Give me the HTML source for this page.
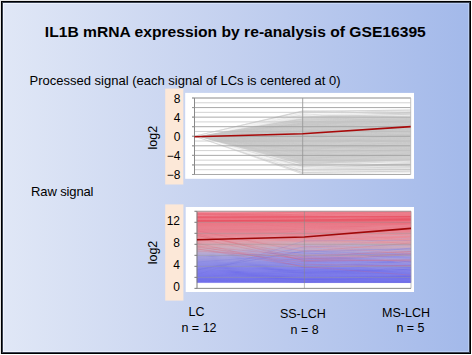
<!DOCTYPE html>
<html><head><meta charset="utf-8"><style>
html,body{margin:0;padding:0;background:#fff;width:472px;height:355px;overflow:hidden}
svg{display:block}
text{font-family:"Liberation Sans",sans-serif;fill:#000}
</style></head><body>
<svg width="472" height="355" viewBox="0 0 472 355">
<defs>
<linearGradient id="bg" x1="0" y1="0" x2="1" y2="0">
<stop offset="0" stop-color="#e0e7f6"/>
<stop offset="0.5" stop-color="#c3d0ef"/>
<stop offset="1" stop-color="#a3b9ea"/>
</linearGradient>
<linearGradient id="hl" x1="0" y1="0" x2="1" y2="0">
<stop offset="0" stop-color="#f2f5fc"/>
<stop offset="1" stop-color="#b8ccf2"/>
</linearGradient>
</defs>
<rect x="0" y="0" width="472" height="355" fill="#fff"/>
<rect x="0" y="0" width="471" height="354" fill="#e6e6e6"/>
<rect x="1" y="1" width="470" height="353" fill="#000"/>
<rect x="2" y="2" width="468" height="351" fill="#3a4252"/>
<rect x="3" y="3" width="466" height="349" fill="url(#hl)"/>
<rect x="4" y="4" width="464" height="347" fill="url(#bg)"/>

<text x="44.8" y="36.6" font-size="15.5" font-weight="bold" textLength="381" lengthAdjust="spacingAndGlyphs">IL1B mRNA expression by re-analysis of GSE16395</text>
<text x="29.5" y="84.8" font-size="13" textLength="311" lengthAdjust="spacing">Processed signal (each signal of LCs is centered at 0)</text>
<text x="31" y="196" font-size="13" textLength="62.5" lengthAdjust="spacing">Raw signal</text>
<rect x="165.2" y="88.6" width="18.1" height="95.9" fill="#fce8d8"/>
<rect x="185.2" y="92.9" width="228.8" height="85.9" fill="#fff"/>
<polygon points="194.5,136.2 302.7,110.9 410.7,109.5 410.7,172.6 302.7,174.5" fill="#e8e8e8" fill-opacity="1"/>
<polygon points="194.5,136.2 302.7,114.3 410.7,113.3 410.7,169.7 302.7,169.2" fill="#dcdcdc" fill-opacity="1"/>
<polygon points="194.5,136.2 302.7,119.0 410.7,115.2 410.7,165.9 302.7,164.9" fill="#d4d4d4" fill-opacity="1"/>
<polygon points="194.5,136.2 302.7,121.9 410.7,117.1 410.7,163.0 302.7,160.2" fill="#cfcfcf" fill-opacity="1"/>
<polyline points="194.5,136.2 302.7,142.2 410.7,134.9" fill="none" stroke="#c4c4c4" stroke-opacity="0.45" stroke-width="0.5"/>
<polyline points="194.5,136.2 302.7,141.8 410.7,140.1" fill="none" stroke="#c4c4c4" stroke-opacity="0.45" stroke-width="0.5"/>
<polyline points="194.5,136.2 302.7,151.5 410.7,149.1" fill="none" stroke="#c4c4c4" stroke-opacity="0.45" stroke-width="0.5"/>
<polyline points="194.5,136.2 302.7,123.2 410.7,116.6" fill="none" stroke="#c4c4c4" stroke-opacity="0.45" stroke-width="0.5"/>
<polyline points="194.5,136.2 302.7,124.3 410.7,118.8" fill="none" stroke="#c4c4c4" stroke-opacity="0.45" stroke-width="0.5"/>
<polyline points="194.5,136.2 302.7,133.2 410.7,128.1" fill="none" stroke="#c4c4c4" stroke-opacity="0.45" stroke-width="0.5"/>
<polyline points="194.5,136.2 302.7,161.7 410.7,152.2" fill="none" stroke="#c4c4c4" stroke-opacity="0.45" stroke-width="0.5"/>
<polyline points="194.5,136.2 302.7,131.6 410.7,124.5" fill="none" stroke="#c4c4c4" stroke-opacity="0.45" stroke-width="0.5"/>
<polyline points="194.5,136.2 302.7,162.1 410.7,169.9" fill="none" stroke="#c4c4c4" stroke-opacity="0.45" stroke-width="0.5"/>
<polyline points="194.5,136.2 302.7,151.0 410.7,150.3" fill="none" stroke="#c4c4c4" stroke-opacity="0.45" stroke-width="0.5"/>
<polyline points="194.5,136.2 302.7,134.4 410.7,130.9" fill="none" stroke="#c4c4c4" stroke-opacity="0.45" stroke-width="0.5"/>
<polyline points="194.5,136.2 302.7,131.4 410.7,131.9" fill="none" stroke="#c4c4c4" stroke-opacity="0.45" stroke-width="0.5"/>
<polyline points="194.5,136.2 302.7,134.4 410.7,127.9" fill="none" stroke="#c4c4c4" stroke-opacity="0.45" stroke-width="0.5"/>
<polyline points="194.5,136.2 302.7,147.8 410.7,132.5" fill="none" stroke="#c4c4c4" stroke-opacity="0.45" stroke-width="0.5"/>
<polyline points="194.5,136.2 302.7,130.9 410.7,119.1" fill="none" stroke="#c4c4c4" stroke-opacity="0.45" stroke-width="0.5"/>
<polyline points="194.5,136.2 302.7,147.2 410.7,148.4" fill="none" stroke="#c4c4c4" stroke-opacity="0.45" stroke-width="0.5"/>
<polyline points="194.5,136.2 302.7,143.4 410.7,140.3" fill="none" stroke="#c4c4c4" stroke-opacity="0.45" stroke-width="0.5"/>
<polyline points="194.5,136.2 302.7,129.9 410.7,124.4" fill="none" stroke="#c4c4c4" stroke-opacity="0.45" stroke-width="0.5"/>
<polyline points="194.5,136.2 302.7,144.8 410.7,147.4" fill="none" stroke="#c4c4c4" stroke-opacity="0.45" stroke-width="0.5"/>
<polyline points="194.5,136.2 302.7,145.9 410.7,133.9" fill="none" stroke="#c4c4c4" stroke-opacity="0.45" stroke-width="0.5"/>
<polyline points="194.5,136.2 302.7,149.8 410.7,144.4" fill="none" stroke="#c4c4c4" stroke-opacity="0.45" stroke-width="0.5"/>
<polyline points="194.5,136.2 302.7,132.7 410.7,138.9" fill="none" stroke="#c4c4c4" stroke-opacity="0.45" stroke-width="0.5"/>
<polyline points="194.5,136.2 302.7,138.0 410.7,125.4" fill="none" stroke="#c4c4c4" stroke-opacity="0.45" stroke-width="0.5"/>
<polyline points="194.5,136.2 302.7,166.6 410.7,164.9" fill="none" stroke="#c4c4c4" stroke-opacity="0.45" stroke-width="0.5"/>
<polyline points="194.5,136.2 302.7,140.1 410.7,141.8" fill="none" stroke="#c4c4c4" stroke-opacity="0.45" stroke-width="0.5"/>
<polyline points="194.5,136.2 302.7,131.7 410.7,128.3" fill="none" stroke="#c4c4c4" stroke-opacity="0.45" stroke-width="0.5"/>
<polyline points="194.5,136.2 302.7,158.9 410.7,149.6" fill="none" stroke="#c4c4c4" stroke-opacity="0.45" stroke-width="0.5"/>
<polyline points="194.5,136.2 302.7,129.4 410.7,119.2" fill="none" stroke="#c4c4c4" stroke-opacity="0.45" stroke-width="0.5"/>
<polyline points="194.5,136.2 302.7,118.7 410.7,112.4" fill="none" stroke="#c4c4c4" stroke-opacity="0.45" stroke-width="0.5"/>
<polyline points="194.5,136.2 302.7,137.0 410.7,141.9" fill="none" stroke="#c4c4c4" stroke-opacity="0.45" stroke-width="0.5"/>
<polyline points="194.5,136.2 302.7,130.1 410.7,130.4" fill="none" stroke="#c4c4c4" stroke-opacity="0.45" stroke-width="0.5"/>
<polyline points="194.5,136.2 302.7,144.9 410.7,149.6" fill="none" stroke="#c4c4c4" stroke-opacity="0.45" stroke-width="0.5"/>
<polyline points="194.5,136.2 302.7,152.1 410.7,151.8" fill="none" stroke="#c4c4c4" stroke-opacity="0.45" stroke-width="0.5"/>
<polyline points="194.5,136.2 302.7,120.8 410.7,130.5" fill="none" stroke="#c4c4c4" stroke-opacity="0.45" stroke-width="0.5"/>
<polyline points="194.5,136.2 302.7,158.8 410.7,153.4" fill="none" stroke="#c4c4c4" stroke-opacity="0.45" stroke-width="0.5"/>
<polyline points="194.5,136.2 302.7,118.6 410.7,112.3" fill="none" stroke="#c4c4c4" stroke-opacity="0.45" stroke-width="0.5"/>
<polyline points="194.5,136.2 302.7,165.0 410.7,173.1" fill="none" stroke="#c4c4c4" stroke-opacity="0.45" stroke-width="0.5"/>
<polyline points="194.5,136.2 302.7,133.7 410.7,134.8" fill="none" stroke="#c4c4c4" stroke-opacity="0.45" stroke-width="0.5"/>
<polyline points="194.5,136.2 302.7,154.2 410.7,143.8" fill="none" stroke="#c4c4c4" stroke-opacity="0.45" stroke-width="0.5"/>
<polyline points="194.5,136.2 302.7,123.4 410.7,118.5" fill="none" stroke="#c4c4c4" stroke-opacity="0.45" stroke-width="0.5"/>
<polyline points="194.5,136.2 302.7,135.2 410.7,128.5" fill="none" stroke="#c4c4c4" stroke-opacity="0.45" stroke-width="0.5"/>
<polyline points="194.5,136.2 302.7,116.5 410.7,112.3" fill="none" stroke="#c4c4c4" stroke-opacity="0.45" stroke-width="0.5"/>
<polyline points="194.5,136.2 302.7,131.5 410.7,124.0" fill="none" stroke="#c4c4c4" stroke-opacity="0.45" stroke-width="0.5"/>
<polyline points="194.5,136.2 302.7,160.4 410.7,148.0" fill="none" stroke="#c4c4c4" stroke-opacity="0.45" stroke-width="0.5"/>
<polyline points="194.5,136.2 302.7,125.4 410.7,118.0" fill="none" stroke="#c4c4c4" stroke-opacity="0.45" stroke-width="0.5"/>
<polyline points="194.5,136.2 302.7,166.0 410.7,166.4" fill="none" stroke="#c4c4c4" stroke-opacity="0.45" stroke-width="0.5"/>
<polyline points="194.5,136.2 302.7,127.0 410.7,135.3" fill="none" stroke="#c4c4c4" stroke-opacity="0.45" stroke-width="0.5"/>
<polyline points="194.5,136.2 302.7,141.2 410.7,130.5" fill="none" stroke="#c4c4c4" stroke-opacity="0.45" stroke-width="0.5"/>
<polyline points="194.5,136.2 302.7,156.8 410.7,142.2" fill="none" stroke="#c4c4c4" stroke-opacity="0.45" stroke-width="0.5"/>
<polyline points="194.5,136.2 302.7,131.0 410.7,128.2" fill="none" stroke="#c4c4c4" stroke-opacity="0.45" stroke-width="0.5"/>
<polyline points="194.5,136.2 302.7,134.1 410.7,126.0" fill="none" stroke="#c4c4c4" stroke-opacity="0.45" stroke-width="0.5"/>
<polyline points="194.5,136.2 302.7,137.0 410.7,125.5" fill="none" stroke="#c4c4c4" stroke-opacity="0.45" stroke-width="0.5"/>
<polyline points="194.5,136.2 302.7,147.8 410.7,146.8" fill="none" stroke="#c4c4c4" stroke-opacity="0.45" stroke-width="0.5"/>
<polyline points="194.5,136.2 302.7,124.2 410.7,120.2" fill="none" stroke="#c4c4c4" stroke-opacity="0.45" stroke-width="0.5"/>
<polyline points="194.5,136.2 302.7,150.8 410.7,140.7" fill="none" stroke="#c4c4c4" stroke-opacity="0.45" stroke-width="0.5"/>
<polyline points="194.5,136.2 302.7,118.3 410.7,117.5" fill="none" stroke="#c4c4c4" stroke-opacity="0.45" stroke-width="0.5"/>
<polyline points="194.5,136.2 302.7,157.8 410.7,154.8" fill="none" stroke="#c4c4c4" stroke-opacity="0.45" stroke-width="0.5"/>
<polyline points="194.5,136.2 302.7,140.7 410.7,138.9" fill="none" stroke="#c4c4c4" stroke-opacity="0.45" stroke-width="0.5"/>
<polyline points="194.5,136.2 302.7,119.2 410.7,122.2" fill="none" stroke="#c4c4c4" stroke-opacity="0.45" stroke-width="0.5"/>
<polyline points="194.5,136.2 302.7,121.2 410.7,125.8" fill="none" stroke="#c4c4c4" stroke-opacity="0.45" stroke-width="0.5"/>
<polyline points="194.5,136.2 302.7,149.5 410.7,141.5" fill="none" stroke="#c4c4c4" stroke-opacity="0.45" stroke-width="0.5"/>
<polyline points="194.5,136.2 302.7,123.0 410.7,113.4" fill="none" stroke="#c4c4c4" stroke-opacity="0.45" stroke-width="0.5"/>
<polyline points="194.5,136.2 302.7,133.9 410.7,129.1" fill="none" stroke="#c4c4c4" stroke-opacity="0.45" stroke-width="0.5"/>
<polyline points="194.5,136.2 302.7,136.5 410.7,128.9" fill="none" stroke="#c4c4c4" stroke-opacity="0.45" stroke-width="0.5"/>
<polyline points="194.5,136.2 302.7,141.1 410.7,135.4" fill="none" stroke="#c4c4c4" stroke-opacity="0.45" stroke-width="0.5"/>
<polyline points="194.5,136.2 302.7,130.7 410.7,126.9" fill="none" stroke="#c4c4c4" stroke-opacity="0.45" stroke-width="0.5"/>
<polyline points="194.5,136.2 302.7,128.0 410.7,120.4" fill="none" stroke="#c4c4c4" stroke-opacity="0.45" stroke-width="0.5"/>
<polyline points="194.5,136.2 302.7,110.9 410.7,112.3" fill="none" stroke="#c4c4c4" stroke-opacity="0.45" stroke-width="0.5"/>
<polyline points="194.5,136.2 302.7,144.6 410.7,143.2" fill="none" stroke="#c4c4c4" stroke-opacity="0.45" stroke-width="0.5"/>
<polyline points="194.5,136.2 302.7,138.8 410.7,128.8" fill="none" stroke="#c4c4c4" stroke-opacity="0.45" stroke-width="0.5"/>
<polyline points="194.5,136.2 302.7,143.3 410.7,136.9" fill="none" stroke="#c4c4c4" stroke-opacity="0.45" stroke-width="0.5"/>
<polyline points="194.5,136.2 302.7,113.2 410.7,126.5" fill="none" stroke="#c4c4c4" stroke-opacity="0.45" stroke-width="0.5"/>
<polyline points="194.5,136.2 302.7,154.2 410.7,148.8" fill="none" stroke="#c4c4c4" stroke-opacity="0.45" stroke-width="0.5"/>
<polyline points="194.5,136.2 302.7,133.1 410.7,127.7" fill="none" stroke="#c4c4c4" stroke-opacity="0.45" stroke-width="0.5"/>
<polyline points="194.5,136.2 302.7,144.6 410.7,136.4" fill="none" stroke="#c4c4c4" stroke-opacity="0.45" stroke-width="0.5"/>
<polyline points="194.5,136.2 302.7,134.7 410.7,134.4" fill="none" stroke="#c4c4c4" stroke-opacity="0.45" stroke-width="0.5"/>
<polyline points="194.5,136.2 302.7,110.9 410.7,112.3" fill="none" stroke="#c4c4c4" stroke-opacity="0.45" stroke-width="0.5"/>
<polyline points="194.5,136.2 302.7,146.3 410.7,143.2" fill="none" stroke="#c4c4c4" stroke-opacity="0.45" stroke-width="0.5"/>
<polyline points="194.5,136.2 302.7,141.8 410.7,138.4" fill="none" stroke="#c4c4c4" stroke-opacity="0.45" stroke-width="0.5"/>
<polyline points="194.5,136.2 302.7,174.0 410.7,173.1" fill="none" stroke="#c4c4c4" stroke-opacity="0.45" stroke-width="0.5"/>
<polyline points="194.5,136.2 302.7,124.7 410.7,128.7" fill="none" stroke="#c4c4c4" stroke-opacity="0.45" stroke-width="0.5"/>
<polyline points="194.5,136.2 302.7,139.6 410.7,129.4" fill="none" stroke="#c4c4c4" stroke-opacity="0.45" stroke-width="0.5"/>
<polyline points="194.5,136.2 302.7,126.8 410.7,113.0" fill="none" stroke="#c4c4c4" stroke-opacity="0.45" stroke-width="0.5"/>
<polyline points="194.5,136.2 302.7,162.2 410.7,160.8" fill="none" stroke="#c4c4c4" stroke-opacity="0.45" stroke-width="0.5"/>
<polyline points="194.5,136.2 302.7,143.4 410.7,135.4" fill="none" stroke="#c4c4c4" stroke-opacity="0.45" stroke-width="0.5"/>
<polyline points="194.5,136.2 302.7,123.5 410.7,137.6" fill="none" stroke="#c4c4c4" stroke-opacity="0.45" stroke-width="0.5"/>
<polyline points="194.5,136.2 302.7,123.5 410.7,129.4" fill="none" stroke="#c4c4c4" stroke-opacity="0.45" stroke-width="0.5"/>
<polyline points="194.5,136.2 302.7,129.2 410.7,135.3" fill="none" stroke="#c4c4c4" stroke-opacity="0.45" stroke-width="0.5"/>
<polyline points="194.5,136.2 302.7,136.2 410.7,124.4" fill="none" stroke="#c4c4c4" stroke-opacity="0.45" stroke-width="0.5"/>
<polyline points="194.5,136.2 302.7,140.7 410.7,135.6" fill="none" stroke="#c4c4c4" stroke-opacity="0.45" stroke-width="0.5"/>
<polyline points="194.5,136.2 302.7,127.6 410.7,122.8" fill="none" stroke="#c4c4c4" stroke-opacity="0.45" stroke-width="0.5"/>
<polyline points="194.5,136.2 302.7,139.9 410.7,125.8" fill="none" stroke="#c4c4c4" stroke-opacity="0.45" stroke-width="0.5"/>
<polyline points="194.5,136.2 302.7,124.1 410.7,122.2" fill="none" stroke="#c4c4c4" stroke-opacity="0.45" stroke-width="0.5"/>
<polyline points="194.5,136.2 302.7,110.9 410.7,114.8" fill="none" stroke="#c4c4c4" stroke-opacity="0.45" stroke-width="0.5"/>
<polyline points="194.5,136.2 302.7,126.0 410.7,123.9" fill="none" stroke="#c4c4c4" stroke-opacity="0.45" stroke-width="0.5"/>
<polyline points="194.5,136.2 302.7,136.8 410.7,128.3" fill="none" stroke="#c4c4c4" stroke-opacity="0.45" stroke-width="0.5"/>
<polyline points="194.5,136.2 302.7,135.6 410.7,127.5" fill="none" stroke="#c4c4c4" stroke-opacity="0.45" stroke-width="0.5"/>
<polyline points="194.5,136.2 302.7,159.8 410.7,166.1" fill="none" stroke="#c4c4c4" stroke-opacity="0.45" stroke-width="0.5"/>
<polyline points="194.5,136.2 302.7,130.1 410.7,132.7" fill="none" stroke="#c4c4c4" stroke-opacity="0.45" stroke-width="0.5"/>
<polyline points="194.5,136.2 302.7,152.9 410.7,158.9" fill="none" stroke="#c4c4c4" stroke-opacity="0.45" stroke-width="0.5"/>
<polyline points="194.5,136.2 302.7,121.1 410.7,112.3" fill="none" stroke="#c4c4c4" stroke-opacity="0.45" stroke-width="0.5"/>
<polyline points="194.5,136.2 302.7,118.2 410.7,120.7" fill="none" stroke="#c4c4c4" stroke-opacity="0.45" stroke-width="0.5"/>
<polyline points="194.5,136.2 302.7,138.6 410.7,142.4" fill="none" stroke="#c4c4c4" stroke-opacity="0.45" stroke-width="0.5"/>
<polyline points="194.5,136.2 302.7,128.0 410.7,113.6" fill="none" stroke="#c4c4c4" stroke-opacity="0.45" stroke-width="0.5"/>
<polyline points="194.5,136.2 302.7,151.0 410.7,136.7" fill="none" stroke="#c4c4c4" stroke-opacity="0.45" stroke-width="0.5"/>
<polyline points="194.5,136.2 302.7,124.9 410.7,122.3" fill="none" stroke="#c4c4c4" stroke-opacity="0.45" stroke-width="0.5"/>
<polyline points="194.5,136.2 302.7,166.0 410.7,152.7" fill="none" stroke="#c4c4c4" stroke-opacity="0.45" stroke-width="0.5"/>
<polyline points="194.5,136.2 302.7,140.0 410.7,140.2" fill="none" stroke="#c4c4c4" stroke-opacity="0.45" stroke-width="0.5"/>
<polyline points="194.5,136.2 302.7,133.1 410.7,126.5" fill="none" stroke="#c4c4c4" stroke-opacity="0.45" stroke-width="0.5"/>
<polyline points="194.5,136.2 302.7,117.9 410.7,120.9" fill="none" stroke="#c4c4c4" stroke-opacity="0.45" stroke-width="0.5"/>
<polyline points="194.5,136.2 302.7,122.9 410.7,112.3" fill="none" stroke="#c4c4c4" stroke-opacity="0.45" stroke-width="0.5"/>
<polyline points="194.5,136.2 302.7,118.5 410.7,115.9" fill="none" stroke="#c4c4c4" stroke-opacity="0.45" stroke-width="0.5"/>
<polyline points="194.5,136.2 302.7,149.0 410.7,138.3" fill="none" stroke="#c4c4c4" stroke-opacity="0.45" stroke-width="0.5"/>
<polyline points="194.5,136.2 302.7,137.0 410.7,132.4" fill="none" stroke="#c4c4c4" stroke-opacity="0.45" stroke-width="0.5"/>
<polyline points="194.5,136.2 302.7,118.9 410.7,116.8" fill="none" stroke="#c4c4c4" stroke-opacity="0.45" stroke-width="0.5"/>
<polyline points="194.5,136.2 302.7,170.5 410.7,169.2" fill="none" stroke="#c4c4c4" stroke-opacity="0.45" stroke-width="0.5"/>
<polyline points="194.5,136.2 302.7,164.3 410.7,155.0" fill="none" stroke="#c4c4c4" stroke-opacity="0.45" stroke-width="0.5"/>
<polyline points="194.5,136.2 302.7,134.2 410.7,134.5" fill="none" stroke="#c4c4c4" stroke-opacity="0.45" stroke-width="0.5"/>
<polyline points="194.5,136.2 302.7,138.8 410.7,129.4" fill="none" stroke="#c4c4c4" stroke-opacity="0.45" stroke-width="0.5"/>
<polyline points="194.5,136.2 302.7,137.5 410.7,124.8" fill="none" stroke="#c4c4c4" stroke-opacity="0.45" stroke-width="0.5"/>
<polyline points="194.5,136.2 302.7,116.4 410.7,106.7" fill="none" stroke="#ffffff" stroke-opacity="0.6" stroke-width="0.6"/>
<polyline points="194.5,136.2 302.7,167.2 410.7,161.9" fill="none" stroke="#ffffff" stroke-opacity="0.6" stroke-width="0.6"/>
<polyline points="194.5,136.2 302.7,112.6 410.7,115.9" fill="none" stroke="#ffffff" stroke-opacity="0.6" stroke-width="0.6"/>
<polyline points="194.5,136.2 302.7,118.0 410.7,116.7" fill="none" stroke="#ffffff" stroke-opacity="0.6" stroke-width="0.6"/>
<polyline points="194.5,136.2 302.7,114.0 410.7,109.1" fill="none" stroke="#ffffff" stroke-opacity="0.6" stroke-width="0.6"/>
<polyline points="194.5,136.2 302.7,168.2 410.7,161.0" fill="none" stroke="#ffffff" stroke-opacity="0.6" stroke-width="0.6"/>
<polyline points="194.5,136.2 302.7,168.5 410.7,165.6" fill="none" stroke="#ffffff" stroke-opacity="0.6" stroke-width="0.6"/>
<polyline points="194.5,136.2 302.7,171.2 410.7,171.0" fill="none" stroke="#ffffff" stroke-opacity="0.6" stroke-width="0.6"/>
<polyline points="194.5,136.2 302.7,172.6 410.7,173.1" fill="none" stroke="#ffffff" stroke-opacity="0.6" stroke-width="0.6"/>
<polyline points="194.5,136.2 302.7,112.0 410.7,112.6" fill="none" stroke="#ffffff" stroke-opacity="0.6" stroke-width="0.6"/>
<polyline points="194.5,136.2 302.7,169.2 410.7,170.4" fill="none" stroke="#ffffff" stroke-opacity="0.6" stroke-width="0.6"/>
<polyline points="194.5,136.2 302.7,165.2 410.7,162.9" fill="none" stroke="#ffffff" stroke-opacity="0.6" stroke-width="0.6"/>
<polyline points="194.5,136.2 302.7,111.9 410.7,108.1" fill="none" stroke="#ffffff" stroke-opacity="0.6" stroke-width="0.6"/>
<polyline points="194.5,136.2 302.7,117.3 410.7,117.1" fill="none" stroke="#ffffff" stroke-opacity="0.6" stroke-width="0.6"/>
<polyline points="194.5,136.2 302.7,113.6 410.7,115.3" fill="none" stroke="#ffffff" stroke-opacity="0.6" stroke-width="0.6"/>
<polyline points="194.5,136.2 302.7,172.1 410.7,173.1" fill="none" stroke="#ffffff" stroke-opacity="0.6" stroke-width="0.6"/>
<polyline points="194.5,136.2 302.7,165.1 410.7,160.5" fill="none" stroke="#ffffff" stroke-opacity="0.6" stroke-width="0.6"/>
<polyline points="194.5,136.2 302.7,115.4 410.7,101.8" fill="none" stroke="#ffffff" stroke-opacity="0.6" stroke-width="0.6"/>
<polyline points="194.5,136.2 302.7,169.4 410.7,168.7" fill="none" stroke="#ffffff" stroke-opacity="0.6" stroke-width="0.6"/>
<polyline points="194.5,136.2 302.7,116.0 410.7,110.9" fill="none" stroke="#ffffff" stroke-opacity="0.6" stroke-width="0.6"/>
<polyline points="194.5,136.2 302.7,111.4 410.7,110.0" fill="none" stroke="#c8c8c8" stroke-width="0.7"/>
<polyline points="194.5,136.2 302.7,172.6 410.7,171.1" fill="none" stroke="#c8c8c8" stroke-width="0.7"/>
<line x1="192.0" y1="174.49" x2="410.7" y2="174.49" stroke="#a0a0a0" stroke-opacity="0.9" stroke-width="1"/>
<line x1="194.5" y1="169.71" x2="410.7" y2="169.71" stroke="#bcbcbc" stroke-opacity="0.85" stroke-width="0.8"/>
<line x1="192.0" y1="164.93" x2="410.7" y2="164.93" stroke="#a0a0a0" stroke-opacity="0.9" stroke-width="1"/>
<line x1="194.5" y1="160.15" x2="410.7" y2="160.15" stroke="#bcbcbc" stroke-opacity="0.85" stroke-width="0.8"/>
<line x1="192.0" y1="155.37" x2="410.7" y2="155.37" stroke="#a0a0a0" stroke-opacity="0.9" stroke-width="1"/>
<line x1="194.5" y1="150.59" x2="410.7" y2="150.59" stroke="#bcbcbc" stroke-opacity="0.85" stroke-width="0.8"/>
<line x1="192.0" y1="145.81" x2="410.7" y2="145.81" stroke="#a0a0a0" stroke-opacity="0.9" stroke-width="1"/>
<line x1="194.5" y1="141.03" x2="410.7" y2="141.03" stroke="#bcbcbc" stroke-opacity="0.85" stroke-width="0.8"/>
<line x1="192.0" y1="136.25" x2="410.7" y2="136.25" stroke="#a0a0a0" stroke-opacity="0.9" stroke-width="1"/>
<line x1="194.5" y1="131.47" x2="410.7" y2="131.47" stroke="#bcbcbc" stroke-opacity="0.85" stroke-width="0.8"/>
<line x1="192.0" y1="126.69" x2="410.7" y2="126.69" stroke="#a0a0a0" stroke-opacity="0.9" stroke-width="1"/>
<line x1="194.5" y1="121.91" x2="410.7" y2="121.91" stroke="#bcbcbc" stroke-opacity="0.85" stroke-width="0.8"/>
<line x1="192.0" y1="117.13" x2="410.7" y2="117.13" stroke="#a0a0a0" stroke-opacity="0.9" stroke-width="1"/>
<line x1="194.5" y1="112.35" x2="410.7" y2="112.35" stroke="#bcbcbc" stroke-opacity="0.85" stroke-width="0.8"/>
<line x1="192.0" y1="107.57" x2="410.7" y2="107.57" stroke="#a0a0a0" stroke-opacity="0.9" stroke-width="1"/>
<line x1="194.5" y1="102.79" x2="410.7" y2="102.79" stroke="#bcbcbc" stroke-opacity="0.85" stroke-width="0.8"/>
<line x1="192.0" y1="98.01" x2="410.7" y2="98.01" stroke="#a0a0a0" stroke-opacity="0.9" stroke-width="1"/>
<line x1="194.5" y1="98.01" x2="410.7" y2="98.01" stroke="#c0c0c0" stroke-width="1.6"/>
<line x1="194.5" y1="98.00999999999999" x2="194.5" y2="174.49" stroke="#888" stroke-width="1"/>
<line x1="192.0" y1="174.49" x2="194.5" y2="174.49" stroke="#999" stroke-width="0.9"/>
<line x1="192.0" y1="164.93" x2="194.5" y2="164.93" stroke="#999" stroke-width="0.9"/>
<line x1="192.0" y1="155.37" x2="194.5" y2="155.37" stroke="#999" stroke-width="0.9"/>
<line x1="192.0" y1="145.81" x2="194.5" y2="145.81" stroke="#999" stroke-width="0.9"/>
<line x1="192.0" y1="136.25" x2="194.5" y2="136.25" stroke="#999" stroke-width="0.9"/>
<line x1="192.0" y1="126.69" x2="194.5" y2="126.69" stroke="#999" stroke-width="0.9"/>
<line x1="192.0" y1="117.13" x2="194.5" y2="117.13" stroke="#999" stroke-width="0.9"/>
<line x1="192.0" y1="107.57" x2="194.5" y2="107.57" stroke="#999" stroke-width="0.9"/>
<line x1="192.0" y1="98.01" x2="194.5" y2="98.01" stroke="#999" stroke-width="0.9"/>
<line x1="302.7" y1="98.00999999999999" x2="302.7" y2="174.49" stroke="#999" stroke-width="0.9"/>
<line x1="410.7" y1="98.00999999999999" x2="410.7" y2="174.49" stroke="#bbb" stroke-width="0.9"/>
<polyline points="194.5,136.7 302.7,133.8 410.7,126.6" fill="none" stroke="#a80a0a" stroke-width="1.6"/>
<text x="180.5" y="102.6" font-size="12" text-anchor="end">8</text>
<text x="180.5" y="121.6" font-size="12" text-anchor="end">4</text>
<text x="180.5" y="140.9" font-size="12" text-anchor="end">0</text>
<text x="180.5" y="160.1" font-size="12" text-anchor="end">−4</text>
<text x="180.5" y="179.2" font-size="12" text-anchor="end">−8</text>
<text transform="translate(156.5,137.7) rotate(-90)" font-size="12.5" text-anchor="middle">log2</text>
<rect x="165.2" y="204.4" width="18.2" height="96.2" fill="#fce8d8"/>
<rect x="185.7" y="207" width="228.3" height="85" fill="#fff"/>
<polygon points="197.0,211.30 304.4,211.30 411.0,211.30 411.0,212.27 304.4,212.29 197.0,212.29" fill="#f09ca9" stroke="#f09ca9" stroke-width="0.4"/>
<polygon points="197.0,212.29 304.4,212.29 411.0,212.27 411.0,213.24 304.4,213.28 197.0,213.28" fill="#ef95a2" stroke="#ef95a2" stroke-width="0.4"/>
<polygon points="197.0,213.28 304.4,213.28 411.0,213.24 411.0,214.21 304.4,214.27 197.0,214.27" fill="#ef8e9b" stroke="#ef8e9b" stroke-width="0.4"/>
<polygon points="197.0,214.27 304.4,214.27 411.0,214.21 411.0,215.18 304.4,215.26 197.0,215.26" fill="#ee8795" stroke="#ee8795" stroke-width="0.4"/>
<polygon points="197.0,215.26 304.4,215.26 411.0,215.18 411.0,216.15 304.4,216.25 197.0,216.25" fill="#ed7d8b" stroke="#ed7d8b" stroke-width="0.4"/>
<polygon points="197.0,216.25 304.4,216.25 411.0,216.15 411.0,217.12 304.4,217.24 197.0,217.24" fill="#eb7282" stroke="#eb7282" stroke-width="0.4"/>
<polygon points="197.0,217.24 304.4,217.24 411.0,217.12 411.0,218.09 304.4,218.23 197.0,218.23" fill="#ea6878" stroke="#ea6878" stroke-width="0.4"/>
<polygon points="197.0,218.23 304.4,218.23 411.0,218.09 411.0,219.06 304.4,219.22 197.0,219.22" fill="#ea6878" stroke="#ea6878" stroke-width="0.4"/>
<polygon points="197.0,219.22 304.4,219.22 411.0,219.06 411.0,220.03 304.4,220.21 197.0,220.21" fill="#ea6878" stroke="#ea6878" stroke-width="0.4"/>
<polygon points="197.0,220.21 304.4,220.21 411.0,220.03 411.0,221.00 304.4,221.20 197.0,221.20" fill="#ea6979" stroke="#ea6979" stroke-width="0.4"/>
<polygon points="197.0,221.20 304.4,221.20 411.0,221.00 411.0,221.97 304.4,222.19 197.0,222.19" fill="#ea6b7b" stroke="#ea6b7b" stroke-width="0.4"/>
<polygon points="197.0,222.19 304.4,222.19 411.0,221.97 411.0,222.94 304.4,223.18 197.0,223.18" fill="#e96d7d" stroke="#e96d7d" stroke-width="0.4"/>
<polygon points="197.0,223.18 304.4,223.18 411.0,222.94 411.0,223.91 304.4,224.17 197.0,224.17" fill="#e96f7f" stroke="#e96f7f" stroke-width="0.4"/>
<polygon points="197.0,224.17 304.4,224.17 411.0,223.91 411.0,224.88 304.4,225.16 197.0,225.16" fill="#e97181" stroke="#e97181" stroke-width="0.4"/>
<polygon points="197.0,225.16 304.4,225.16 411.0,224.88 411.0,225.85 304.4,226.15 197.0,226.15" fill="#e97383" stroke="#e97383" stroke-width="0.4"/>
<polygon points="197.0,226.15 304.4,226.15 411.0,225.85 411.0,226.82 304.4,227.14 197.0,227.14" fill="#e97585" stroke="#e97585" stroke-width="0.4"/>
<polygon points="197.0,227.14 304.4,227.14 411.0,226.82 411.0,227.79 304.4,228.13 197.0,228.13" fill="#e87787" stroke="#e87787" stroke-width="0.4"/>
<polygon points="197.0,228.13 304.4,228.13 411.0,227.79 411.0,228.76 304.4,229.12 197.0,229.12" fill="#e87989" stroke="#e87989" stroke-width="0.4"/>
<polygon points="197.0,229.12 304.4,229.12 411.0,228.76 411.0,229.73 304.4,230.12 197.0,230.12" fill="#e87b8b" stroke="#e87b8b" stroke-width="0.4"/>
<polygon points="197.0,230.12 304.4,230.12 411.0,229.73 411.0,230.70 304.4,231.11 197.0,231.11" fill="#e87d8d" stroke="#e87d8d" stroke-width="0.4"/>
<polygon points="197.0,231.11 304.4,231.11 411.0,230.70 411.0,231.67 304.4,232.10 197.0,232.10" fill="#e87f8f" stroke="#e87f8f" stroke-width="0.4"/>
<polygon points="197.0,232.10 304.4,232.10 411.0,231.67 411.0,232.65 304.4,233.09 197.0,233.09" fill="#e78191" stroke="#e78191" stroke-width="0.4"/>
<polygon points="197.0,233.09 304.4,233.09 411.0,232.65 411.0,233.62 304.4,234.08 197.0,234.08" fill="#e78392" stroke="#e78392" stroke-width="0.4"/>
<polygon points="197.0,234.08 304.4,234.08 411.0,233.62 411.0,234.59 304.4,235.07 197.0,235.07" fill="#e78594" stroke="#e78594" stroke-width="0.4"/>
<polygon points="197.0,235.07 304.4,235.07 411.0,234.59 411.0,235.54 304.4,236.03 197.0,236.06" fill="#e78796" stroke="#e78796" stroke-width="0.4"/>
<polygon points="197.0,236.06 304.4,236.03 411.0,235.54 411.0,236.27 304.4,236.59 197.0,237.05" fill="#e68998" stroke="#e68998" stroke-width="0.4"/>
<polygon points="197.0,237.05 304.4,236.59 411.0,236.27 411.0,236.99 304.4,237.15 197.0,238.04" fill="#e68b99" stroke="#e68b99" stroke-width="0.4"/>
<polygon points="197.0,238.04 304.4,237.15 411.0,236.99 411.0,237.72 304.4,237.72 197.0,239.03" fill="#e58e9b" stroke="#e58e9b" stroke-width="0.4"/>
<polygon points="197.0,239.03 304.4,237.72 411.0,237.72 411.0,238.45 304.4,238.28 197.0,240.02" fill="#e3909e" stroke="#e3909e" stroke-width="0.4"/>
<polygon points="197.0,240.02 304.4,238.28 411.0,238.45 411.0,239.17 304.4,238.84 197.0,241.01" fill="#e193a1" stroke="#e193a1" stroke-width="0.4"/>
<polygon points="197.0,241.01 304.4,238.84 411.0,239.17 411.0,239.90 304.4,239.40 197.0,242.00" fill="#df96a3" stroke="#df96a3" stroke-width="0.4"/>
<polygon points="197.0,242.00 304.4,239.40 411.0,239.90 411.0,240.63 304.4,239.96 197.0,242.99" fill="#dd99a6" stroke="#dd99a6" stroke-width="0.4"/>
<polygon points="197.0,242.99 304.4,239.96 411.0,240.63 411.0,241.35 304.4,240.52 197.0,243.98" fill="#db9ca8" stroke="#db9ca8" stroke-width="0.4"/>
<polygon points="197.0,243.98 304.4,240.52 411.0,241.35 411.0,242.08 304.4,241.08 197.0,244.97" fill="#d99fab" stroke="#d99fab" stroke-width="0.4"/>
<polygon points="197.0,244.97 304.4,241.08 411.0,242.08 411.0,242.80 304.4,241.64 197.0,245.96" fill="#d6a2ae" stroke="#d6a2ae" stroke-width="0.4"/>
<polygon points="197.0,245.96 304.4,241.64 411.0,242.80 411.0,243.53 304.4,242.21 197.0,246.95" fill="#d2a5b2" stroke="#d2a5b2" stroke-width="0.4"/>
<polygon points="197.0,246.95 304.4,242.21 411.0,243.53 411.0,244.26 304.4,242.77 197.0,247.94" fill="#cea8b6" stroke="#cea8b6" stroke-width="0.4"/>
<polygon points="197.0,247.94 304.4,242.77 411.0,244.26 411.0,244.98 304.4,243.33 197.0,248.93" fill="#caabba" stroke="#caabba" stroke-width="0.4"/>
<polygon points="197.0,248.93 304.4,243.33 411.0,244.98 411.0,245.71 304.4,243.89 197.0,249.92" fill="#c6aebe" stroke="#c6aebe" stroke-width="0.4"/>
<polygon points="197.0,249.92 304.4,243.89 411.0,245.71 411.0,246.43 304.4,244.45 197.0,250.91" fill="#c2afc2" stroke="#c2afc2" stroke-width="0.4"/>
<polygon points="197.0,250.91 304.4,244.45 411.0,246.43 411.0,247.53 304.4,245.59 197.0,251.90" fill="#bcacc6" stroke="#bcacc6" stroke-width="0.4"/>
<polygon points="197.0,251.90 304.4,245.59 411.0,247.53 411.0,248.66 304.4,246.78 197.0,252.89" fill="#b7aaca" stroke="#b7aaca" stroke-width="0.4"/>
<polygon points="197.0,252.89 304.4,246.78 411.0,248.66 411.0,249.79 304.4,247.97 197.0,253.88" fill="#b2a8ce" stroke="#b2a8ce" stroke-width="0.4"/>
<polygon points="197.0,253.88 304.4,247.97 411.0,249.79 411.0,250.92 304.4,249.17 197.0,254.87" fill="#ada5d2" stroke="#ada5d2" stroke-width="0.4"/>
<polygon points="197.0,254.87 304.4,249.17 411.0,250.92 411.0,252.05 304.4,250.36 197.0,255.86" fill="#a8a2d5" stroke="#a8a2d5" stroke-width="0.4"/>
<polygon points="197.0,255.86 304.4,250.36 411.0,252.05 411.0,253.19 304.4,251.56 197.0,256.85" fill="#a49fd7" stroke="#a49fd7" stroke-width="0.4"/>
<polygon points="197.0,256.85 304.4,251.56 411.0,253.19 411.0,254.32 304.4,252.75 197.0,257.84" fill="#a09bda" stroke="#a09bda" stroke-width="0.4"/>
<polygon points="197.0,257.84 304.4,252.75 411.0,254.32 411.0,255.45 304.4,253.94 197.0,258.83" fill="#9c97dc" stroke="#9c97dc" stroke-width="0.4"/>
<polygon points="197.0,258.83 304.4,253.94 411.0,255.45 411.0,256.58 304.4,255.14 197.0,259.82" fill="#9894de" stroke="#9894de" stroke-width="0.4"/>
<polygon points="197.0,259.82 304.4,255.14 411.0,256.58 411.0,257.71 304.4,256.33 197.0,260.81" fill="#9490e0" stroke="#9490e0" stroke-width="0.4"/>
<polygon points="197.0,260.81 304.4,256.33 411.0,257.71 411.0,258.84 304.4,257.53 197.0,261.80" fill="#908ce3" stroke="#908ce3" stroke-width="0.4"/>
<polygon points="197.0,261.80 304.4,257.53 411.0,258.84 411.0,259.97 304.4,258.72 197.0,262.79" fill="#8d89e4" stroke="#8d89e4" stroke-width="0.4"/>
<polygon points="197.0,262.79 304.4,258.72 411.0,259.97 411.0,261.11 304.4,259.91 197.0,263.78" fill="#8a86e5" stroke="#8a86e5" stroke-width="0.4"/>
<polygon points="197.0,263.78 304.4,259.91 411.0,261.11 411.0,262.24 304.4,261.11 197.0,264.78" fill="#8784e6" stroke="#8784e6" stroke-width="0.4"/>
<polygon points="197.0,264.78 304.4,261.11 411.0,262.24 411.0,263.37 304.4,262.30 197.0,265.77" fill="#8481e7" stroke="#8481e7" stroke-width="0.4"/>
<polygon points="197.0,265.77 304.4,262.30 411.0,263.37 411.0,264.50 304.4,263.50 197.0,266.76" fill="#817ee7" stroke="#817ee7" stroke-width="0.4"/>
<polygon points="197.0,266.76 304.4,263.50 411.0,264.50 411.0,265.63 304.4,264.69 197.0,267.75" fill="#7e7be8" stroke="#7e7be8" stroke-width="0.4"/>
<polygon points="197.0,267.75 304.4,264.69 411.0,265.63 411.0,266.76 304.4,265.88 197.0,268.74" fill="#7b79e9" stroke="#7b79e9" stroke-width="0.4"/>
<polygon points="197.0,268.74 304.4,265.88 411.0,266.76 411.0,267.89 304.4,267.08 197.0,269.73" fill="#7876e9" stroke="#7876e9" stroke-width="0.4"/>
<polygon points="197.0,269.73 304.4,267.08 411.0,267.89 411.0,269.02 304.4,268.27 197.0,270.72" fill="#7674ea" stroke="#7674ea" stroke-width="0.4"/>
<polygon points="197.0,270.72 304.4,268.27 411.0,269.02 411.0,270.16 304.4,269.47 197.0,271.71" fill="#7573ea" stroke="#7573ea" stroke-width="0.4"/>
<polygon points="197.0,271.71 304.4,269.47 411.0,270.16 411.0,271.29 304.4,270.66 197.0,272.70" fill="#7371ea" stroke="#7371ea" stroke-width="0.4"/>
<polygon points="197.0,272.70 304.4,270.66 411.0,271.29 411.0,272.42 304.4,271.85 197.0,273.69" fill="#7270eb" stroke="#7270eb" stroke-width="0.4"/>
<polygon points="197.0,273.69 304.4,271.85 411.0,272.42 411.0,273.55 304.4,273.05 197.0,274.68" fill="#716feb" stroke="#716feb" stroke-width="0.4"/>
<polygon points="197.0,274.68 304.4,273.05 411.0,273.55 411.0,274.68 304.4,274.24 197.0,275.67" fill="#706eeb" stroke="#706eeb" stroke-width="0.4"/>
<polygon points="197.0,275.67 304.4,274.24 411.0,274.68 411.0,275.81 304.4,275.44 197.0,276.66" fill="#6f6deb" stroke="#6f6deb" stroke-width="0.4"/>
<polygon points="197.0,276.66 304.4,275.44 411.0,275.81 411.0,276.94 304.4,276.63 197.0,277.65" fill="#6e6ceb" stroke="#6e6ceb" stroke-width="0.4"/>
<polygon points="197.0,277.65 304.4,276.63 411.0,276.94 411.0,278.07 304.4,277.82 197.0,278.64" fill="#6d6beb" stroke="#6d6beb" stroke-width="0.4"/>
<polygon points="197.0,278.64 304.4,277.82 411.0,278.07 411.0,279.21 304.4,279.02 197.0,279.63" fill="#6c6aeb" stroke="#6c6aeb" stroke-width="0.4"/>
<polygon points="197.0,279.63 304.4,279.02 411.0,279.21 411.0,280.34 304.4,280.21 197.0,280.62" fill="#6b69ec" stroke="#6b69ec" stroke-width="0.4"/>
<polygon points="197.0,280.62 304.4,280.21 411.0,280.34 411.0,281.47 304.4,281.41 197.0,281.61" fill="#6a68ec" stroke="#6a68ec" stroke-width="0.4"/>
<polygon points="197.0,281.61 304.4,281.41 411.0,281.47 411.0,282.60 304.4,282.60 197.0,282.60" fill="#6967ec" stroke="#6967ec" stroke-width="0.4"/>
<polyline points="197,258.5 304.4,266.0 411,264.0" fill="none" stroke="#a29cdc" stroke-opacity="0.5" stroke-width="0.7"/>
<polyline points="197,255.3 304.4,259.4 411,259.8" fill="none" stroke="#afa5d7" stroke-opacity="0.5" stroke-width="0.7"/>
<polyline points="197,214.6 304.4,211.9 411,211.9" fill="none" stroke="#ea6c7b" stroke-opacity="0.5" stroke-width="0.7"/>
<polyline points="197,266.2 304.4,264.8 411,266.2" fill="none" stroke="#8989e5" stroke-opacity="0.5" stroke-width="0.7"/>
<polyline points="197,263.2 304.4,260.6 411,262.3" fill="none" stroke="#8f8fe4" stroke-opacity="0.5" stroke-width="0.7"/>
<polyline points="197,229.1 304.4,225.0 411,233.7" fill="none" stroke="#e97f8d" stroke-opacity="0.5" stroke-width="0.7"/>
<polyline points="197,234.7 304.4,229.9 411,231.6" fill="none" stroke="#e88996" stroke-opacity="0.5" stroke-width="0.7"/>
<polyline points="197,244.5 304.4,250.3 411,250.8" fill="none" stroke="#dba0ae" stroke-opacity="0.5" stroke-width="0.7"/>
<polyline points="197,259.3 304.4,260.9 411,252.2" fill="none" stroke="#9e99de" stroke-opacity="0.5" stroke-width="0.7"/>
<polyline points="197,269.4 304.4,266.3 411,268.7" fill="none" stroke="#8483e5" stroke-opacity="0.5" stroke-width="0.7"/>
<polyline points="197,281.2 304.4,277.9 411,275.9" fill="none" stroke="#6f6de9" stroke-opacity="0.5" stroke-width="0.7"/>
<polyline points="197,239.5 304.4,238.8 411,235.0" fill="none" stroke="#e5929e" stroke-opacity="0.5" stroke-width="0.7"/>
<polyline points="197,273.8 304.4,257.9 411,256.7" fill="none" stroke="#7c7be7" stroke-opacity="0.5" stroke-width="0.7"/>
<polyline points="197,252.9 304.4,246.9 411,250.4" fill="none" stroke="#baa8cf" stroke-opacity="0.5" stroke-width="0.7"/>
<polyline points="197,279.3 304.4,282.2 411,282.3" fill="none" stroke="#7270e8" stroke-opacity="0.5" stroke-width="0.7"/>
<polyline points="197,214.0 304.4,214.3 411,211.9" fill="none" stroke="#ea6b7b" stroke-opacity="0.5" stroke-width="0.7"/>
<polyline points="197,216.6 304.4,220.8 411,225.3" fill="none" stroke="#ea6e7d" stroke-opacity="0.5" stroke-width="0.7"/>
<polyline points="197,267.8 304.4,274.8 411,272.3" fill="none" stroke="#8786e5" stroke-opacity="0.5" stroke-width="0.7"/>
<polyline points="197,263.3 304.4,258.0 411,273.1" fill="none" stroke="#8f8fe4" stroke-opacity="0.5" stroke-width="0.7"/>
<polyline points="197,279.7 304.4,273.9 411,273.2" fill="none" stroke="#716fe9" stroke-opacity="0.5" stroke-width="0.7"/>
<polyline points="197,213.4 304.4,217.1 411,217.4" fill="none" stroke="#ea6a7a" stroke-opacity="0.5" stroke-width="0.7"/>
<polyline points="197,250.8 304.4,254.7 411,260.8" fill="none" stroke="#c4a8c6" stroke-opacity="0.5" stroke-width="0.7"/>
<polyline points="197,236.1 304.4,246.0 411,249.0" fill="none" stroke="#e88b98" stroke-opacity="0.5" stroke-width="0.7"/>
<polyline points="197,213.9 304.4,215.2 411,211.9" fill="none" stroke="#ea6b7a" stroke-opacity="0.5" stroke-width="0.7"/>
<polyline points="197,266.2 304.4,262.9 411,253.2" fill="none" stroke="#8a89e4" stroke-opacity="0.5" stroke-width="0.7"/>
<polyline points="197,231.0 304.4,221.4 411,211.9" fill="none" stroke="#e98390" stroke-opacity="0.5" stroke-width="0.7"/>
<polyline points="197,213.1 304.4,212.7 411,213.4" fill="none" stroke="#ea6a7a" stroke-opacity="0.5" stroke-width="0.7"/>
<polyline points="197,238.3 304.4,234.4 411,238.0" fill="none" stroke="#e88f9b" stroke-opacity="0.5" stroke-width="0.7"/>
<polyline points="197,278.4 304.4,280.9 411,282.3" fill="none" stroke="#7472e8" stroke-opacity="0.5" stroke-width="0.7"/>
<polyline points="197,246.7 304.4,240.1 411,241.3" fill="none" stroke="#d6a6b4" stroke-opacity="0.5" stroke-width="0.7"/>
<polyline points="197,233.5 304.4,230.5 411,229.6" fill="none" stroke="#e88794" stroke-opacity="0.5" stroke-width="0.7"/>
<polyline points="197,263.4 304.4,258.7 411,258.6" fill="none" stroke="#8f8ee4" stroke-opacity="0.5" stroke-width="0.7"/>
<polyline points="197,259.2 304.4,254.8 411,255.2" fill="none" stroke="#9f9add" stroke-opacity="0.5" stroke-width="0.7"/>
<polyline points="197,279.9 304.4,277.3 411,279.7" fill="none" stroke="#716fe9" stroke-opacity="0.5" stroke-width="0.7"/>
<polyline points="197,269.4 304.4,270.5 411,268.7" fill="none" stroke="#8483e5" stroke-opacity="0.5" stroke-width="0.7"/>
<polyline points="197,262.7 304.4,264.8 411,267.9" fill="none" stroke="#9090e3" stroke-opacity="0.5" stroke-width="0.7"/>
<polyline points="197,227.6 304.4,219.9 411,215.0" fill="none" stroke="#e97d8b" stroke-opacity="0.5" stroke-width="0.7"/>
<polyline points="197,272.2 304.4,276.4 411,279.0" fill="none" stroke="#7f7ee6" stroke-opacity="0.5" stroke-width="0.7"/>
<polyline points="197,261.2 304.4,262.6 411,264.2" fill="none" stroke="#9694e1" stroke-opacity="0.5" stroke-width="0.7"/>
<polyline points="197,214.8 304.4,213.1 411,215.4" fill="none" stroke="#ea6c7b" stroke-opacity="0.5" stroke-width="0.7"/>
<polyline points="197,219.4 304.4,218.0 411,224.5" fill="none" stroke="#ea7281" stroke-opacity="0.5" stroke-width="0.7"/>
<polyline points="197,228.5 304.4,229.5 411,235.2" fill="none" stroke="#e97e8c" stroke-opacity="0.5" stroke-width="0.7"/>
<polyline points="197,262.3 304.4,264.3 411,266.2" fill="none" stroke="#9291e3" stroke-opacity="0.5" stroke-width="0.7"/>
<polyline points="197,224.2 304.4,225.5 411,231.3" fill="none" stroke="#ea7886" stroke-opacity="0.5" stroke-width="0.7"/>
<polyline points="197,252.1 304.4,253.9 411,259.5" fill="none" stroke="#bea8cc" stroke-opacity="0.5" stroke-width="0.7"/>
<polyline points="197,218.2 304.4,218.1 411,224.5" fill="none" stroke="#ea707f" stroke-opacity="0.5" stroke-width="0.7"/>
<polyline points="197,225.0 304.4,217.5 411,216.8" fill="none" stroke="#ea7987" stroke-opacity="0.5" stroke-width="0.7"/>
<polyline points="197,226.1 304.4,229.1 411,241.1" fill="none" stroke="#e97a88" stroke-opacity="0.5" stroke-width="0.7"/>
<polyline points="197,237.0 304.4,235.8 411,235.0" fill="none" stroke="#e88d99" stroke-opacity="0.5" stroke-width="0.7"/>
<polyline points="197,237.4 304.4,232.8 411,234.0" fill="none" stroke="#e88e9a" stroke-opacity="0.5" stroke-width="0.7"/>
<polyline points="197,250.5 304.4,249.6 411,249.3" fill="none" stroke="#c5a8c5" stroke-opacity="0.5" stroke-width="0.7"/>
<polyline points="197,244.9 304.4,244.7 411,240.9" fill="none" stroke="#daa1af" stroke-opacity="0.5" stroke-width="0.7"/>
<polyline points="197,250.1 304.4,239.7 411,234.8" fill="none" stroke="#c7a8c3" stroke-opacity="0.5" stroke-width="0.7"/>
<polyline points="197,219.1 304.4,214.0 411,211.9" fill="none" stroke="#ea7180" stroke-opacity="0.5" stroke-width="0.7"/>
<polyline points="197,229.8 304.4,238.7 411,237.2" fill="none" stroke="#e9818e" stroke-opacity="0.5" stroke-width="0.7"/>
<polyline points="197,222.7 304.4,221.9 411,213.6" fill="none" stroke="#ea7684" stroke-opacity="0.5" stroke-width="0.7"/>
<polyline points="197,266.1 304.4,269.3 411,273.8" fill="none" stroke="#8a89e4" stroke-opacity="0.5" stroke-width="0.7"/>
<polyline points="197,222.7 304.4,213.1 411,211.9" fill="none" stroke="#ea7684" stroke-opacity="0.5" stroke-width="0.7"/>
<polyline points="197,262.1 304.4,255.4 411,253.3" fill="none" stroke="#9392e2" stroke-opacity="0.5" stroke-width="0.7"/>
<polyline points="197,268.4 304.4,272.0 411,274.6" fill="none" stroke="#8685e5" stroke-opacity="0.5" stroke-width="0.7"/>
<polyline points="197,236.4 304.4,238.8 411,245.3" fill="none" stroke="#e88c98" stroke-opacity="0.5" stroke-width="0.7"/>
<polyline points="197,272.9 304.4,278.6 411,278.0" fill="none" stroke="#7d7ce7" stroke-opacity="0.5" stroke-width="0.7"/>
<polyline points="197,213.8 304.4,211.9 411,211.9" fill="none" stroke="#ea6b7a" stroke-opacity="0.5" stroke-width="0.7"/>
<polyline points="197,247.8 304.4,248.9 411,252.8" fill="none" stroke="#d2a8b9" stroke-opacity="0.5" stroke-width="0.7"/>
<polyline points="197,249.5 304.4,247.8 411,263.4" fill="none" stroke="#caa8c0" stroke-opacity="0.5" stroke-width="0.7"/>
<polyline points="197,243.6 304.4,244.4 411,242.5" fill="none" stroke="#dd9eab" stroke-opacity="0.5" stroke-width="0.7"/>
<polyline points="197,249.0 304.4,249.5 411,247.6" fill="none" stroke="#cca8be" stroke-opacity="0.5" stroke-width="0.7"/>
<polyline points="197,246.6 304.4,230.8 411,231.3" fill="none" stroke="#d6a6b4" stroke-opacity="0.5" stroke-width="0.7"/>
<polyline points="197,255.1 304.4,245.2 411,250.9" fill="none" stroke="#b0a5d7" stroke-opacity="0.5" stroke-width="0.7"/>
<polyline points="197,277.1 304.4,270.1 411,265.7" fill="none" stroke="#7675e8" stroke-opacity="0.5" stroke-width="0.7"/>
<polyline points="197,263.9 304.4,268.2 411,263.0" fill="none" stroke="#8e8ee4" stroke-opacity="0.5" stroke-width="0.7"/>
<polyline points="197,237.8 304.4,238.3 411,235.9" fill="none" stroke="#e88e9a" stroke-opacity="0.5" stroke-width="0.7"/>
<polyline points="197,256.6 304.4,266.7 411,266.6" fill="none" stroke="#aaa1d9" stroke-opacity="0.5" stroke-width="0.7"/>
<polyline points="197,254.6 304.4,248.0 411,237.8" fill="none" stroke="#b2a7d6" stroke-opacity="0.5" stroke-width="0.7"/>
<polyline points="197,234.3 304.4,240.9 411,236.4" fill="none" stroke="#e88895" stroke-opacity="0.5" stroke-width="0.7"/>
<polyline points="197,253.0 304.4,254.8 411,253.0" fill="none" stroke="#b9a8d0" stroke-opacity="0.5" stroke-width="0.7"/>
<polyline points="197,259.0 304.4,261.0 411,257.0" fill="none" stroke="#a09add" stroke-opacity="0.5" stroke-width="0.7"/>
<polyline points="197,254.3 304.4,251.2 411,252.4" fill="none" stroke="#b3a7d6" stroke-opacity="0.5" stroke-width="0.7"/>
<polyline points="197,281.5 304.4,281.8 411,282.3" fill="none" stroke="#6e6ce9" stroke-opacity="0.5" stroke-width="0.7"/>
<polyline points="197,277.8 304.4,282.3 411,279.1" fill="none" stroke="#7573e8" stroke-opacity="0.5" stroke-width="0.7"/>
<polyline points="197,277.0 304.4,269.5 411,273.3" fill="none" stroke="#7675e8" stroke-opacity="0.5" stroke-width="0.7"/>
<polyline points="197,222.1 304.4,222.4 411,220.9" fill="none" stroke="#ea7584" stroke-opacity="0.5" stroke-width="0.7"/>
<polyline points="197,235.7 304.4,237.5 411,239.7" fill="none" stroke="#e88b97" stroke-opacity="0.5" stroke-width="0.7"/>
<polyline points="197,213.9 304.4,217.9 411,216.2" fill="none" stroke="#ea6b7a" stroke-opacity="0.5" stroke-width="0.7"/>
<polyline points="197,227.8 304.4,226.7 411,231.8" fill="none" stroke="#e97d8b" stroke-opacity="0.5" stroke-width="0.7"/>
<polyline points="197,280.3 304.4,279.9 411,282.3" fill="none" stroke="#706ee9" stroke-opacity="0.5" stroke-width="0.7"/>
<polyline points="197,220.6 304.4,223.8 411,224.9" fill="none" stroke="#ea7382" stroke-opacity="0.5" stroke-width="0.7"/>
<polyline points="197,276.7 304.4,272.0 411,274.1" fill="none" stroke="#7775e8" stroke-opacity="0.5" stroke-width="0.7"/>
<polyline points="197,239.0 304.4,232.6 411,224.9" fill="none" stroke="#e6919d" stroke-opacity="0.5" stroke-width="0.7"/>
<polyline points="197,248.1 304.4,242.8 411,246.1" fill="none" stroke="#d1a8ba" stroke-opacity="0.5" stroke-width="0.7"/>
<polyline points="197,270.3 304.4,273.8 411,271.7" fill="none" stroke="#8281e6" stroke-opacity="0.5" stroke-width="0.7"/>
<polyline points="197,264.3 304.4,264.8 411,272.0" fill="none" stroke="#8d8de4" stroke-opacity="0.5" stroke-width="0.7"/>
<polyline points="197,253.7 304.4,253.3 411,247.6" fill="none" stroke="#b6a8d3" stroke-opacity="0.5" stroke-width="0.7"/>
<polyline points="197,235.2 304.4,230.0 411,225.1" fill="none" stroke="#e88a96" stroke-opacity="0.5" stroke-width="0.7"/>
<polyline points="197,277.0 304.4,282.3 411,282.3" fill="none" stroke="#7675e8" stroke-opacity="0.5" stroke-width="0.7"/>
<polyline points="197,243.5 304.4,247.8 411,246.5" fill="none" stroke="#dd9eab" stroke-opacity="0.5" stroke-width="0.7"/>
<polyline points="197,228.8 304.4,234.4 411,231.7" fill="none" stroke="#e97f8c" stroke-opacity="0.5" stroke-width="0.7"/>
<polyline points="197,265.1 304.4,262.3 411,256.6" fill="none" stroke="#8b8be4" stroke-opacity="0.5" stroke-width="0.7"/>
<polyline points="197,259.8 304.4,265.9 411,259.3" fill="none" stroke="#9c98df" stroke-opacity="0.5" stroke-width="0.7"/>
<polyline points="197,268.1 304.4,258.1 411,256.9" fill="none" stroke="#8686e5" stroke-opacity="0.5" stroke-width="0.7"/>
<polyline points="197,255.4 304.4,255.4 411,258.8" fill="none" stroke="#afa4d7" stroke-opacity="0.5" stroke-width="0.7"/>
<polyline points="197,263.3 304.4,263.2 411,269.0" fill="none" stroke="#8f8fe4" stroke-opacity="0.5" stroke-width="0.7"/>
<polyline points="197,241.9 304.4,246.7 411,240.9" fill="none" stroke="#e099a6" stroke-opacity="0.5" stroke-width="0.7"/>
<polyline points="197,245.0 304.4,242.6 411,251.9" fill="none" stroke="#daa2af" stroke-opacity="0.5" stroke-width="0.7"/>
<polyline points="197,275.8 304.4,271.9 411,274.9" fill="none" stroke="#7877e7" stroke-opacity="0.5" stroke-width="0.7"/>
<polyline points="197,236.8 304.4,240.7 411,238.9" fill="none" stroke="#e88d99" stroke-opacity="0.5" stroke-width="0.7"/>
<polyline points="197,224.9 304.4,222.4 411,222.9" fill="none" stroke="#ea7987" stroke-opacity="0.5" stroke-width="0.7"/>
<polyline points="197,252.4 304.4,251.6 411,260.5" fill="none" stroke="#bca8cd" stroke-opacity="0.5" stroke-width="0.7"/>
<polyline points="197,214.1 304.4,216.0 411,215.9" fill="none" stroke="#ea6b7b" stroke-opacity="0.5" stroke-width="0.7"/>
<polyline points="197,216.8 304.4,211.9 411,214.0" fill="none" stroke="#ea6e7e" stroke-opacity="0.5" stroke-width="0.7"/>
<polyline points="197,249.3 304.4,257.6 411,254.8" fill="none" stroke="#cba8c0" stroke-opacity="0.5" stroke-width="0.7"/>
<polyline points="197,266.6 304.4,258.9 411,248.1" fill="none" stroke="#8988e5" stroke-opacity="0.5" stroke-width="0.7"/>
<polyline points="197,274.7 304.4,271.2 411,278.0" fill="none" stroke="#7a79e7" stroke-opacity="0.5" stroke-width="0.7"/>
<polyline points="197,222.7 304.4,221.0 411,222.3" fill="none" stroke="#ea7684" stroke-opacity="0.5" stroke-width="0.7"/>
<polyline points="197,227.6 304.4,225.0 411,225.0" fill="none" stroke="#e97d8b" stroke-opacity="0.5" stroke-width="0.7"/>
<polyline points="197,242.2 304.4,234.6 411,232.7" fill="none" stroke="#e09aa7" stroke-opacity="0.5" stroke-width="0.7"/>
<polyline points="197,214.5 304.4,218.8 411,223.1" fill="none" stroke="#ea6c7b" stroke-opacity="0.5" stroke-width="0.7"/>
<polyline points="197,251.5 304.4,251.3 411,253.6" fill="none" stroke="#c1a8c9" stroke-opacity="0.5" stroke-width="0.7"/>
<polyline points="197,261.2 304.4,258.1 411,259.3" fill="none" stroke="#9794e1" stroke-opacity="0.5" stroke-width="0.7"/>
<polyline points="197,264.0 304.4,263.9 411,264.1" fill="none" stroke="#8e8de4" stroke-opacity="0.5" stroke-width="0.7"/>
<polyline points="197,244.5 304.4,240.5 411,240.5" fill="none" stroke="#dba0ae" stroke-opacity="0.5" stroke-width="0.7"/>
<polyline points="197,260.0 304.4,258.1 411,261.2" fill="none" stroke="#9b97df" stroke-opacity="0.5" stroke-width="0.7"/>
<polyline points="197,245.2 304.4,246.4 411,246.8" fill="none" stroke="#d9a2b0" stroke-opacity="0.5" stroke-width="0.7"/>
<polyline points="197,253.3 304.4,254.3 411,255.7" fill="none" stroke="#b8a8d1" stroke-opacity="0.5" stroke-width="0.7"/>
<polyline points="197,268.7 304.4,263.3 411,268.0" fill="none" stroke="#8584e5" stroke-opacity="0.5" stroke-width="0.7"/>
<polyline points="197,276.6 304.4,275.9 411,270.7" fill="none" stroke="#7775e8" stroke-opacity="0.5" stroke-width="0.7"/>
<polyline points="197,256.2 304.4,263.9 411,263.5" fill="none" stroke="#aba2d9" stroke-opacity="0.5" stroke-width="0.7"/>
<polyline points="197,231.7 304.4,234.9 411,231.1" fill="none" stroke="#e98491" stroke-opacity="0.5" stroke-width="0.7"/>
<polyline points="197,281.9 304.4,282.3 411,275.1" fill="none" stroke="#6d6be9" stroke-opacity="0.5" stroke-width="0.7"/>
<polyline points="197,277.6 304.4,280.9 411,280.8" fill="none" stroke="#7574e8" stroke-opacity="0.5" stroke-width="0.7"/>
<polyline points="197,228.4 304.4,226.4 411,221.2" fill="none" stroke="#e97e8c" stroke-opacity="0.5" stroke-width="0.7"/>
<polyline points="197,263.7 304.4,261.8 411,263.4" fill="none" stroke="#8e8ee4" stroke-opacity="0.5" stroke-width="0.7"/>
<polyline points="197,238.4 304.4,246.5 411,253.2" fill="none" stroke="#e88f9b" stroke-opacity="0.5" stroke-width="0.7"/>
<polyline points="197,248.2 304.4,246.7 411,247.6" fill="none" stroke="#d0a8ba" stroke-opacity="0.5" stroke-width="0.7"/>
<polyline points="197,240.4 304.4,239.0 411,239.7" fill="none" stroke="#e495a1" stroke-opacity="0.5" stroke-width="0.7"/>
<polyline points="197,280.7 304.4,282.3 411,282.3" fill="none" stroke="#6f6ee9" stroke-opacity="0.5" stroke-width="0.7"/>
<polyline points="197,232.3 304.4,230.1 411,225.2" fill="none" stroke="#e88592" stroke-opacity="0.5" stroke-width="0.7"/>
<polyline points="197,232.2 304.4,233.1 411,230.9" fill="none" stroke="#e88592" stroke-opacity="0.5" stroke-width="0.7"/>
<polyline points="197,276.7 304.4,275.1 411,272.3" fill="none" stroke="#7775e8" stroke-opacity="0.5" stroke-width="0.7"/>
<polyline points="197,236.4 304.4,241.8 411,242.7" fill="none" stroke="#e88c98" stroke-opacity="0.5" stroke-width="0.7"/>
<polyline points="197,260.4 304.4,261.8 411,271.2" fill="none" stroke="#9a96df" stroke-opacity="0.5" stroke-width="0.7"/>
<polyline points="197,212.9 304.4,215.1 411,214.3" fill="none" stroke="#ea6a79" stroke-opacity="0.5" stroke-width="0.7"/>
<polyline points="197,276.8 304.4,272.3 411,269.8" fill="none" stroke="#7675e8" stroke-opacity="0.5" stroke-width="0.7"/>
<polyline points="197,219.9 304.4,227.7 411,230.8" fill="none" stroke="#ea7281" stroke-opacity="0.5" stroke-width="0.7"/>
<polyline points="197,255.5 304.4,255.0 411,259.3" fill="none" stroke="#aea4d8" stroke-opacity="0.5" stroke-width="0.7"/>
<polyline points="197,225.7 304.4,219.1 411,215.0" fill="none" stroke="#e97a88" stroke-opacity="0.5" stroke-width="0.7"/>
<polyline points="197,268.5 304.4,273.8 411,275.1" fill="none" stroke="#8585e5" stroke-opacity="0.5" stroke-width="0.7"/>
<polyline points="197,259.6 304.4,260.0 411,265.6" fill="none" stroke="#9d99de" stroke-opacity="0.5" stroke-width="0.7"/>
<polyline points="197,237.8 304.4,237.7 411,230.8" fill="none" stroke="#e88e9a" stroke-opacity="0.5" stroke-width="0.7"/>
<polyline points="197,253.8 304.4,257.7 411,253.8" fill="none" stroke="#b6a8d4" stroke-opacity="0.5" stroke-width="0.7"/>
<polyline points="197,225.7 304.4,222.7 411,221.5" fill="none" stroke="#e97a88" stroke-opacity="0.5" stroke-width="0.7"/>
<polyline points="197,277.9 304.4,281.6 411,282.3" fill="none" stroke="#7473e8" stroke-opacity="0.5" stroke-width="0.7"/>
<polyline points="197,258.7 304.4,257.3 411,257.7" fill="none" stroke="#a19bdd" stroke-opacity="0.5" stroke-width="0.7"/>
<polyline points="197,229.7 304.4,233.9 411,244.4" fill="none" stroke="#e9818e" stroke-opacity="0.5" stroke-width="0.7"/>
<polyline points="197,261.4 304.4,262.6 411,269.1" fill="none" stroke="#9694e1" stroke-opacity="0.5" stroke-width="0.7"/>
<polyline points="197,225.6 304.4,223.8 411,224.4" fill="none" stroke="#ea7987" stroke-opacity="0.5" stroke-width="0.7"/>
<polyline points="197,224.1 304.4,218.0 411,213.1" fill="none" stroke="#ea7886" stroke-opacity="0.5" stroke-width="0.7"/>
<polyline points="197,249.5 304.4,248.1 411,256.7" fill="none" stroke="#caa8c0" stroke-opacity="0.5" stroke-width="0.7"/>
<polyline points="197,217.9 304.4,216.9 411,219.3" fill="none" stroke="#ea707f" stroke-opacity="0.5" stroke-width="0.7"/>
<polyline points="197,247.3 304.4,235.9 411,235.3" fill="none" stroke="#d4a8b7" stroke-opacity="0.5" stroke-width="0.7"/>
<polyline points="197,245.9 304.4,256.5 411,251.4" fill="none" stroke="#e05a6a" stroke-opacity="0.35" stroke-width="0.6"/>
<polyline points="197,233.6 304.4,260.8 411,254.7" fill="none" stroke="#e05a6a" stroke-opacity="0.35" stroke-width="0.6"/>
<polyline points="197,235.3 304.4,258.3 411,261.0" fill="none" stroke="#e05a6a" stroke-opacity="0.35" stroke-width="0.6"/>
<polyline points="197,249.1 304.4,261.7 411,259.4" fill="none" stroke="#e05a6a" stroke-opacity="0.35" stroke-width="0.6"/>
<polyline points="197,238.3 304.4,260.4 411,260.8" fill="none" stroke="#e05a6a" stroke-opacity="0.35" stroke-width="0.6"/>
<polyline points="197,243.2 304.4,267.2 411,265.4" fill="none" stroke="#e05a6a" stroke-opacity="0.35" stroke-width="0.6"/>
<polyline points="197,251.0 304.4,257.8 411,253.5" fill="none" stroke="#e05a6a" stroke-opacity="0.35" stroke-width="0.6"/>
<polyline points="197,230.8 304.4,251.5 411,243.1" fill="none" stroke="#e05a6a" stroke-opacity="0.35" stroke-width="0.6"/>
<polyline points="197,248.8 304.4,266.7 411,275.2" fill="none" stroke="#e05a6a" stroke-opacity="0.35" stroke-width="0.6"/>
<polyline points="197,247.4 304.4,259.3 411,253.8" fill="none" stroke="#e05a6a" stroke-opacity="0.35" stroke-width="0.6"/>
<polyline points="197,235.6 304.4,255.3 411,251.7" fill="none" stroke="#e05a6a" stroke-opacity="0.35" stroke-width="0.6"/>
<polyline points="197,246.4 304.4,264.3 411,266.0" fill="none" stroke="#e05a6a" stroke-opacity="0.35" stroke-width="0.6"/>
<polyline points="197,269.7 304.4,251.1 411,254.3" fill="none" stroke="#7070e0" stroke-opacity="0.3" stroke-width="0.6"/>
<polyline points="197,270.1 304.4,250.7 411,249.4" fill="none" stroke="#7070e0" stroke-opacity="0.3" stroke-width="0.6"/>
<polyline points="197,257.1 304.4,252.2 411,248.4" fill="none" stroke="#7070e0" stroke-opacity="0.3" stroke-width="0.6"/>
<polyline points="197,269.9 304.4,246.7 411,245.0" fill="none" stroke="#7070e0" stroke-opacity="0.3" stroke-width="0.6"/>
<polyline points="197,262.1 304.4,253.7 411,255.2" fill="none" stroke="#7070e0" stroke-opacity="0.3" stroke-width="0.6"/>
<polyline points="197,274.5 304.4,240.8 411,240.4" fill="none" stroke="#7070e0" stroke-opacity="0.3" stroke-width="0.6"/>
<line x1="197" y1="220.9" x2="411" y2="222.4" stroke="#e84658" stroke-opacity="0.5" stroke-width="0.8"/>
<line x1="197" y1="217.0" x2="411" y2="216.5" stroke="#e84658" stroke-opacity="0.5" stroke-width="0.8"/>
<line x1="197" y1="220.9" x2="411" y2="218.8" stroke="#e84658" stroke-opacity="0.5" stroke-width="0.8"/>
<line x1="197" y1="217.3" x2="411" y2="216.6" stroke="#e84658" stroke-opacity="0.5" stroke-width="0.8"/>
<line x1="197" y1="221.1" x2="411" y2="219.4" stroke="#e84658" stroke-opacity="0.5" stroke-width="0.8"/>
<line x1="197" y1="221.2" x2="411" y2="220.3" stroke="#e84658" stroke-opacity="0.5" stroke-width="0.8"/>
<line x1="194.5" y1="288.40" x2="411" y2="288.40" stroke="#999" stroke-opacity="0.55" stroke-width="0.8"/>
<line x1="194.5" y1="277.39" x2="411" y2="277.39" stroke="#999" stroke-opacity="0.55" stroke-width="0.8"/>
<line x1="194.5" y1="266.37" x2="411" y2="266.37" stroke="#999" stroke-opacity="0.55" stroke-width="0.8"/>
<line x1="194.5" y1="255.36" x2="411" y2="255.36" stroke="#999" stroke-opacity="0.55" stroke-width="0.8"/>
<line x1="194.5" y1="244.34" x2="411" y2="244.34" stroke="#999" stroke-opacity="0.55" stroke-width="0.8"/>
<line x1="194.5" y1="233.33" x2="411" y2="233.33" stroke="#999" stroke-opacity="0.55" stroke-width="0.8"/>
<line x1="194.5" y1="222.32" x2="411" y2="222.32" stroke="#999" stroke-opacity="0.55" stroke-width="0.8"/>
<line x1="194.5" y1="211.30" x2="411" y2="211.30" stroke="#999" stroke-opacity="0.55" stroke-width="0.8"/>
<line x1="197" y1="211.30" x2="197" y2="288.40" stroke="#7a7a7a" stroke-width="1"/>
<line x1="194.5" y1="288.40" x2="197" y2="288.40" stroke="#7a7a7a" stroke-width="0.9"/>
<line x1="194.5" y1="277.39" x2="197" y2="277.39" stroke="#7a7a7a" stroke-width="0.9"/>
<line x1="194.5" y1="266.37" x2="197" y2="266.37" stroke="#7a7a7a" stroke-width="0.9"/>
<line x1="194.5" y1="255.36" x2="197" y2="255.36" stroke="#7a7a7a" stroke-width="0.9"/>
<line x1="194.5" y1="244.34" x2="197" y2="244.34" stroke="#7a7a7a" stroke-width="0.9"/>
<line x1="194.5" y1="233.33" x2="197" y2="233.33" stroke="#7a7a7a" stroke-width="0.9"/>
<line x1="194.5" y1="222.32" x2="197" y2="222.32" stroke="#7a7a7a" stroke-width="0.9"/>
<line x1="194.5" y1="211.30" x2="197" y2="211.30" stroke="#7a7a7a" stroke-width="0.9"/>
<line x1="197" y1="288.40" x2="411" y2="288.40" stroke="#888" stroke-width="0.9"/>
<line x1="304.4" y1="211.30" x2="304.4" y2="288.40" stroke="#8a8a8a" stroke-opacity="0.7" stroke-width="0.8"/>
<line x1="411" y1="211.30" x2="411" y2="288.40" stroke="#999" stroke-opacity="0.7" stroke-width="0.9"/>
<line x1="197" y1="211.30" x2="411" y2="211.30" stroke="#999" stroke-opacity="0.6" stroke-width="1"/>
<polyline points="197,239.7 304.4,237.0 411,228.4" fill="none" stroke="#a00808" stroke-width="1.6"/>
<text x="180.0" y="224.7" font-size="12" text-anchor="end">12</text>
<text x="180.0" y="246.9" font-size="12" text-anchor="end">8</text>
<text x="180.0" y="269.0" font-size="12" text-anchor="end">4</text>
<text x="180.0" y="291.0" font-size="12" text-anchor="end">0</text>
<text transform="translate(156.5,252.5) rotate(-90)" font-size="12.5" text-anchor="middle">log2</text>
<text x="196.6" y="316.4" font-size="12.5" text-anchor="middle">LC</text>
<text x="199" y="332.2" font-size="12.5" text-anchor="middle">n = 12</text>
<text x="302.8" y="318.1" font-size="12.5" text-anchor="middle">SS-LCH</text>
<text x="304.7" y="333.6" font-size="12.5" text-anchor="middle">n = 8</text>
<text x="406" y="316.7" font-size="12.5" text-anchor="middle">MS-LCH</text>
<text x="410.5" y="331.9" font-size="12.5" text-anchor="middle">n = 5</text>
</svg></body></html>
